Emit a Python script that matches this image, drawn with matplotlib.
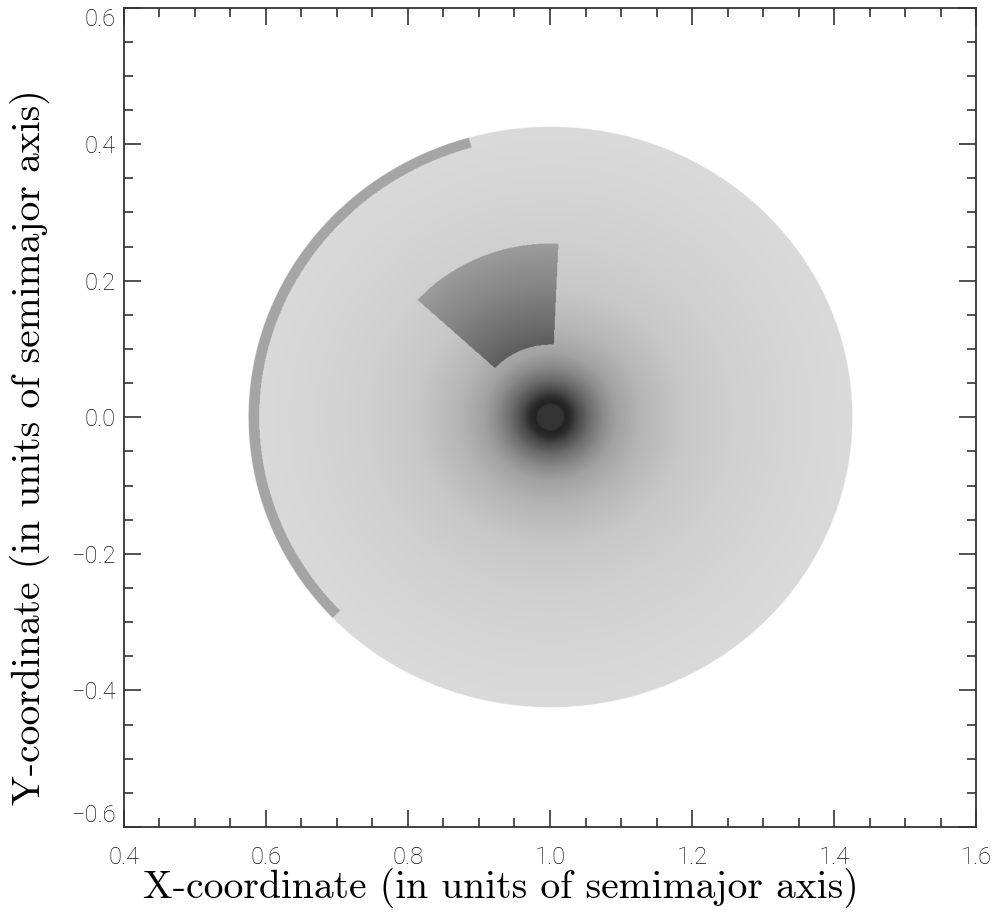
import numpy as np
import matplotlib.pyplot as plt
from matplotlib.ticker import MultipleLocator

# disk geometry (units of semimajor axis)
x_center, y_center = 1.0, 0.0
disk_radius = 0.425

# radial brightness profile of the disk (0-255 grey)
profile_r = [0.0, 0.018, 0.021, 0.028, 0.040, 0.056, 0.075, 0.094, 0.13, 0.19, 0.26, 0.33, 0.425]
profile_grey = [52, 52, 34, 42, 75, 110, 140, 162, 182, 200, 208, 213, 218]

# dark band along the outer rim
band_r = (0.410, 0.425)
band_angles = (105.7, 223.8)
band_grey = 165

# darker annular wedge
wedge_r = (0.106, 0.254)
wedge_angles = (87.5, 137.5)
wedge_factor = (0.55, 0.75)  # brightness factor at inner / outer radius

xlim = (0.4, 1.6)
ylim = (-0.6, 0.6)

# build the image field
nx, ny = 1400, 1400
xs = np.linspace(xlim[0], xlim[1], nx)
ys = np.linspace(ylim[0], ylim[1], ny)
X, Y = np.meshgrid(xs, ys)
R = np.hypot(X - x_center, Y - y_center)
ang = np.degrees(np.arctan2(Y - y_center, X - x_center)) % 360

grey = np.interp(R, profile_r, profile_grey)

in_band = (R >= band_r[0]) & (ang >= band_angles[0]) & (ang <= band_angles[1])
grey[in_band] = band_grey

in_wedge = (R >= wedge_r[0]) & (R <= wedge_r[1]) & (ang >= wedge_angles[0]) & (ang <= wedge_angles[1])
fac = np.interp(R, wedge_r, wedge_factor)
grey[in_wedge] = grey[in_wedge] * fac[in_wedge]

# rgba image with a soft disk edge
step = xs[1] - xs[0]
alpha = np.clip((disk_radius - R) / step + 0.5, 0, 1)
rgba = np.dstack([grey / 255, grey / 255, grey / 255, alpha])

fig = plt.figure(figsize=(9.98, 9.18), dpi=100)
ax = fig.add_axes([0.1242, 0.0991, 0.978 - 0.1242, 0.9918 - 0.0991])
ax.imshow(rgba, origin='lower', extent=[xlim[0], xlim[1], ylim[0], ylim[1]],
          aspect='auto', interpolation='antialiased')

ax.set_xlim(xlim)
ax.set_ylim(ylim)
ax.xaxis.set_major_locator(MultipleLocator(0.2))
ax.xaxis.set_minor_locator(MultipleLocator(0.05))
ax.yaxis.set_major_locator(MultipleLocator(0.2))
ax.yaxis.set_minor_locator(MultipleLocator(0.05))
ax.xaxis.set_major_formatter(plt.FuncFormatter(lambda v, p: f'{v:.1f}'))
ax.yaxis.set_major_formatter(plt.FuncFormatter(lambda v, p: f'{v:.1f}'.replace('-', '\u2212')))

tick_col = '#333333'
ax.tick_params(which='both', direction='in', top=True, right=True, color=tick_col, width=1.2)
ax.tick_params(which='major', length=12.5)
ax.tick_params(which='minor', length=6.5)
ax.tick_params(axis='x', which='major', pad=14)
ax.tick_params(axis='y', which='major', pad=6)
for s in ax.spines.values():
    s.set_color(tick_col)
    s.set_linewidth(1.3)

fig.canvas.draw()
for lab in ax.get_xticklabels() + ax.get_yticklabels():
    lab.set_family(['Roboto', 'DejaVu Sans'])
    lab.set_weight('light')
    lab.set_fontsize(17)
    lab.set_color('#111111')
# keep the end labels of the y axis inside the figure
for lab in ax.get_yticklabels():
    if lab.get_text() == '0.6':
        lab.set_va('top')
    elif lab.get_text() == '\u22120.6':
        lab.set_va('bottom')

ax.set_xlabel('X-coordinate (in units of semimajor axis)', family='cmr10', fontsize=28.5)
ax.set_ylabel('Y-coordinate (in units of semimajor axis)', family='cmr10', fontsize=28.5)
ax.xaxis.label.set_va('center')
ax.yaxis.label.set_va('center')
ax.xaxis.set_label_coords(0.442, -0.0744)
ax.yaxis.set_label_coords(-0.110, 0.464)

fig.savefig('out.png', dpi=100)
